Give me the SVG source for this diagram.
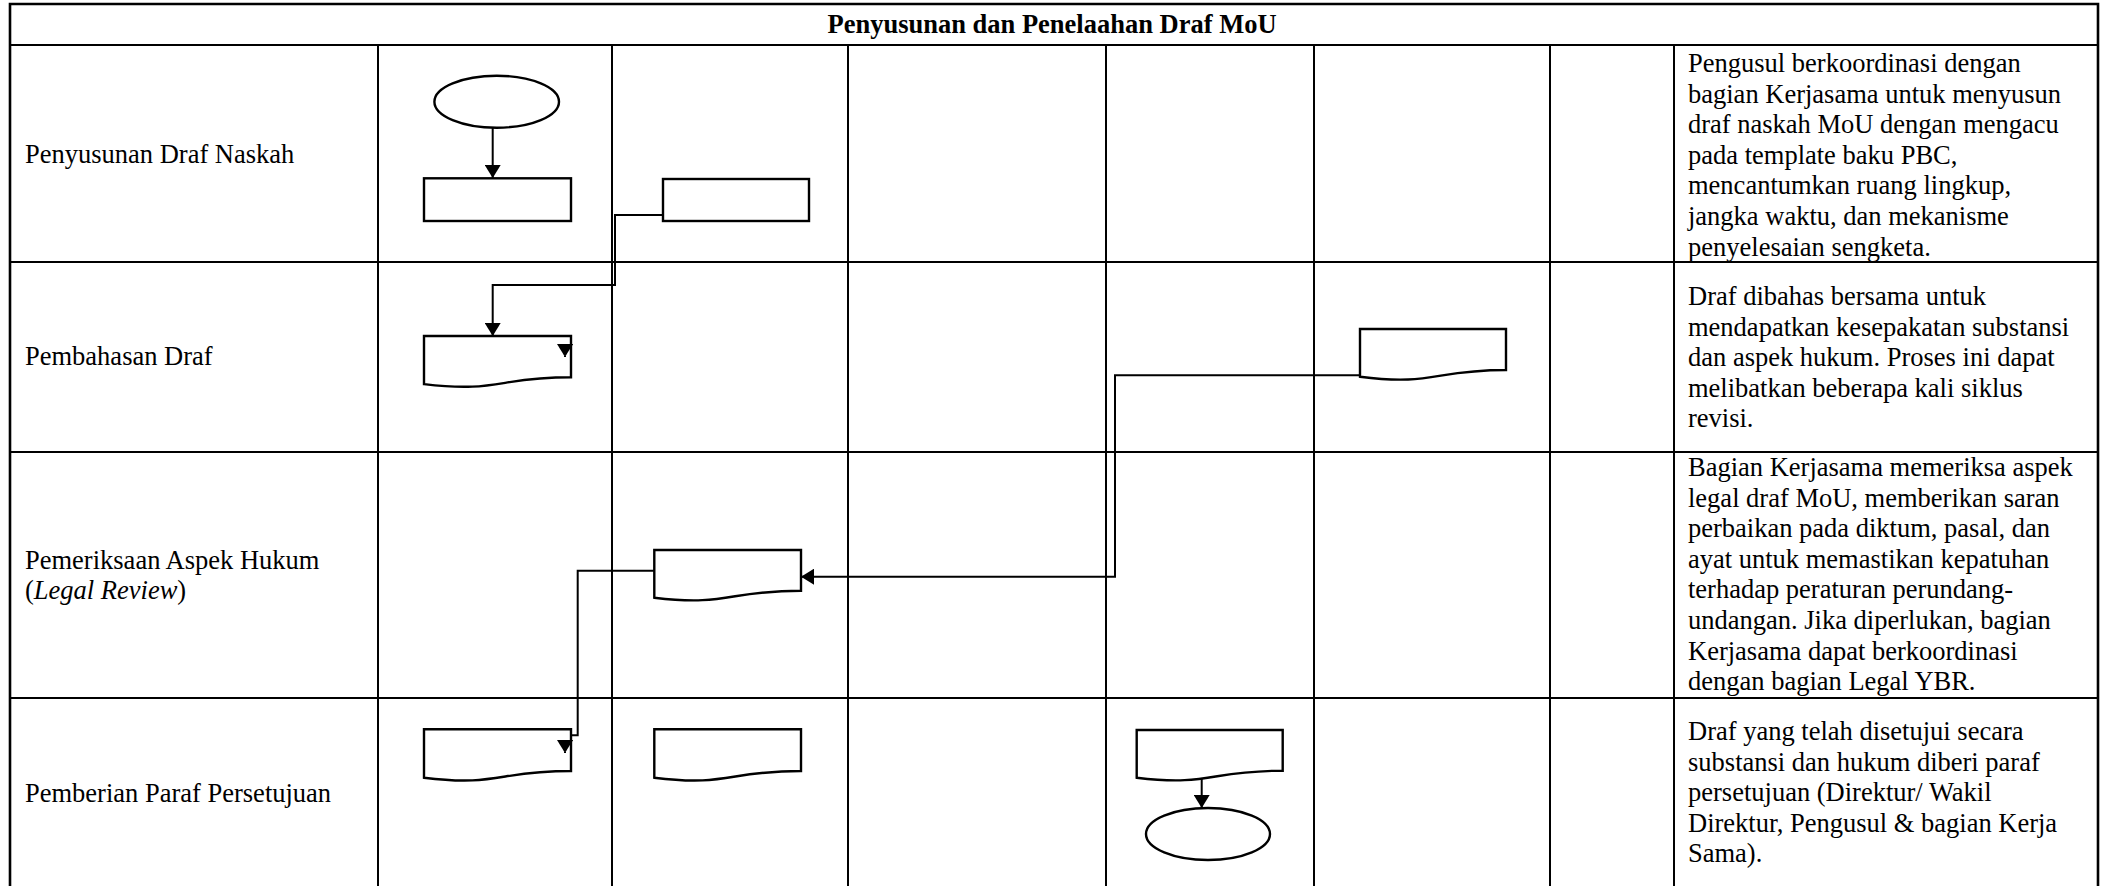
<svg xmlns="http://www.w3.org/2000/svg" width="2108" height="886" viewBox="0 0 2108 886">
<style>
.grid{stroke:#000;stroke-width:2;fill:none}
.outer{stroke:#000;stroke-width:2.6;fill:none}
.shape{stroke:#000;stroke-width:2.4;fill:#fff}
.conn{stroke:#000;stroke-width:2;fill:none}
.t{font-family:"Liberation Serif","Times New Roman",serif;font-size:26.5px;fill:#000}
.b{font-weight:bold}
</style>
<defs>
<marker id="arr" markerUnits="userSpaceOnUse" markerWidth="14" markerHeight="16" refX="13" refY="8" orient="auto">
<path d="M0,0 L13,8 L0,16 Z" fill="#000"/>
</marker>
</defs>
<rect width="2108" height="886" fill="#fff"/>
<g id="table">
<path class="outer" d="M10,886 V4 H2098 V886"/>
<path class="grid" d="M10,45 H2098 M10,262 H2098 M10,452 H2098 M10,698 H2098"/>
<path class="grid" d="M378,45 V886 M612,45 V886 M848,45 V886 M1106,45 V886 M1314,45 V886 M1550,45 V886 M1674,45 V886"/>
</g>
<g id="title"><text class="t b" x="1052" y="33" text-anchor="middle">Penyusunan dan Penelaahan Draf MoU</text></g>
<g id="labels">
<text class="t" x="25" y="163">Penyusunan Draf Naskah</text>
<text class="t" x="25" y="365">Pembahasan Draf</text>
<text class="t" x="25" y="569">Pemeriksaan Aspek Hukum</text>
<text class="t" x="25" y="599">(<tspan font-style="italic">Legal Review</tspan>)</text>
<text class="t" x="25" y="802">Pemberian Paraf Persetujuan</text>
</g>
<g id="descriptions">
<text class="t" x="1688" y="72"><tspan x="1688">Pengusul berkoordinasi dengan</tspan><tspan x="1688" dy="30.6">bagian Kerjasama untuk menyusun</tspan><tspan x="1688" dy="30.6">draf naskah MoU dengan mengacu</tspan><tspan x="1688" dy="30.6">pada template baku PBC,</tspan><tspan x="1688" dy="30.6">mencantumkan ruang lingkup,</tspan><tspan x="1688" dy="30.6">jangka waktu, dan mekanisme</tspan><tspan x="1688" dy="30.6">penyelesaian sengketa.</tspan></text>
<text class="t" x="1688" y="305"><tspan x="1688">Draf dibahas bersama untuk</tspan><tspan x="1688" dy="30.6">mendapatkan kesepakatan substansi</tspan><tspan x="1688" dy="30.6">dan aspek hukum. Proses ini dapat</tspan><tspan x="1688" dy="30.6">melibatkan beberapa kali siklus</tspan><tspan x="1688" dy="30.6">revisi.</tspan></text>
<text class="t" x="1688" y="476"><tspan x="1688">Bagian Kerjasama memeriksa aspek</tspan><tspan x="1688" dy="30.6">legal draf MoU, memberikan saran</tspan><tspan x="1688" dy="30.6">perbaikan pada diktum, pasal, dan</tspan><tspan x="1688" dy="30.6">ayat untuk memastikan kepatuhan</tspan><tspan x="1688" dy="30.6">terhadap peraturan perundang-</tspan><tspan x="1688" dy="30.6">undangan. Jika diperlukan, bagian</tspan><tspan x="1688" dy="30.6">Kerjasama dapat berkoordinasi</tspan><tspan x="1688" dy="30.6">dengan bagian Legal YBR.</tspan></text>
<text class="t" x="1688" y="740"><tspan x="1688">Draf yang telah disetujui secara</tspan><tspan x="1688" dy="30.6">substansi dan hukum diberi paraf</tspan><tspan x="1688" dy="30.6">persetujuan (Direktur/ Wakil</tspan><tspan x="1688" dy="30.6">Direktur, Pengusul &amp; bagian Kerja</tspan><tspan x="1688" dy="30.6">Sama).</tspan></text>
</g>
<g id="connectors">
<path class="conn" d="M492.7,128 V178" marker-end="url(#arr)"/>
<path class="conn" d="M663,215 H615 V285 H492.7 V336" marker-end="url(#arr)"/>
<path class="conn" d="M565,340 V357" marker-end="url(#arr)"/>
<path class="conn" d="M1360,375.3 H1115 V576.7 H801" marker-end="url(#arr)"/>
<path class="conn" d="M654.3,570.7 H577.7 V735.3 H565 V753" marker-end="url(#arr)"/>
<path class="conn" d="M1201.7,778 V808" marker-end="url(#arr)"/>
</g>
<g id="n-start"><ellipse class="shape" cx="496.7" cy="101.7" rx="62.3" ry="26"/></g>
<g id="n-rect1"><rect class="shape" x="424" y="178.3" width="147" height="42.7"/></g>
<g id="n-rect2"><rect class="shape" x="663" y="179" width="146" height="42"/></g>
<g id="n-doc-r2c1"><path class="shape" d="M424,336 H571 V377.3 C497.5,377.3 497.5,393 424,384.1 Z"/></g>
<g id="n-doc-r2c5"><path class="shape" d="M1360,329 H1506 V370 C1433,370 1433,386 1360,376.7 Z"/></g>
<g id="n-doc-r3c2"><path class="shape" d="M654.3,550 H801 V590.7 C727.6,590.7 727.6,606.5 654.3,597.7 Z"/></g>
<g id="n-doc-r4c1"><path class="shape" d="M424,729.3 H571 V771 C497.5,771 497.5,786.8 424,777.7 Z"/></g>
<g id="n-doc-r4c2"><path class="shape" d="M654.3,729.3 H801 V771 C727.6,771 727.6,786.8 654.3,777.7 Z"/></g>
<g id="n-doc-r4c4"><path class="shape" d="M1136.7,730 H1282.7 V770.7 C1209.7,770.7 1209.7,786.5 1136.7,777.7 Z"/></g>
<g id="n-end"><ellipse class="shape" cx="1208" cy="834" rx="62" ry="26"/></g>
<g id="connector-arrowheads-over">
<path class="conn" d="M565,752 V753" marker-end="url(#arr)"/>
<path class="conn" d="M565,356 V357" marker-end="url(#arr)"/>
</g>
</svg>
